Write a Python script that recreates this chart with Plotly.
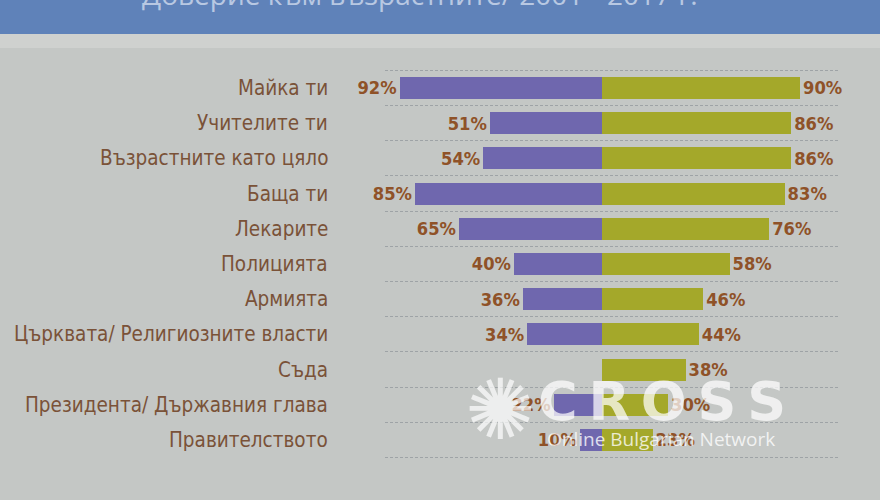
import plotly.graph_objects as go

categories = ["Майка ти", "Учителите ти", "Възрастните като цяло", "Баща ти", "Лекарите",
              "Полицията", "Армията", "Църквата/ Религиозните власти", "Съда",
              "Президента/ Държавния глава", "Правителството"]
values_2001 = [92, 51, 54, 85, 65, 40, 36, 34, None, 22, 10]
values_2017 = [90, 86, 86, 83, 76, 58, 46, 44, 38, 30, 23]
title_text = "Доверие към възрастните/ 2001 - 2017 г."

idx = list(range(len(categories)))
NARROW = "Liberation Sans Narrow, DejaVu Sans Condensed, Arial Narrow, sans-serif"
PURPLE = "#6f67ae"
OLIVE = "#a4a82a"
BROWN = "#8f5228"
CATCOL = "#7a5238"

left_x = [-v if v is not None else None for v in values_2001]
left_t = [f"{v}%" if v is not None else "" for v in values_2001]
right_t = [f"{v}%" for v in values_2017]

fig = go.Figure()
fig.add_trace(go.Bar(y=idx, x=left_x, orientation="h", marker=dict(color=PURPLE, line=dict(width=0)),
                     width=0.62, text=left_t, textposition="outside", cliponaxis=False,
                     textfont=dict(family=NARROW, size=20, color=BROWN, weight="bold"),
                     showlegend=False, hoverinfo="skip"))
fig.add_trace(go.Bar(y=idx, x=values_2017, orientation="h", marker=dict(color=OLIVE, line=dict(width=0)),
                     width=0.62, text=right_t, textposition="outside", cliponaxis=False,
                     textfont=dict(family=NARROW, size=20, color=BROWN, weight="bold"),
                     showlegend=False, hoverinfo="skip"))

for i, c in zip(idx, categories):
    fig.add_annotation(x=330 / 880, xref="paper", y=i, yref="y", text=c, showarrow=False,
                       xanchor="right", yanchor="middle",
                       font=dict(family=NARROW, size=20.5, color=CATCOL))

# top blue band
fig.add_shape(type="rect", xref="paper", yref="paper", x0=0, x1=1, y0=1 - 34 / 500, y1=1,
              fillcolor="#5f82b9", line=dict(width=0), layer="below")
fig.add_shape(type="rect", xref="paper", yref="paper", x0=0, x1=1, y0=1 - 48 / 500, y1=1 - 34 / 500,
              fillcolor="#cfd1cf", line=dict(width=0), layer="below")
fig.add_annotation(x=140 / 880, xref="paper", y=1 + 6 / 500, yref="paper", text=title_text,
                   showarrow=False, xanchor="left", yanchor="middle",
                   font=dict(family="Open Sans, DejaVu Sans, sans-serif", size=28, color="#b8c8e2"))

# watermark
fig.add_annotation(x=662 / 880, xref="paper", y=1 - 401 / 500, yref="paper",
                   text="<b>C\u2009R\u2009O\u2009S\u2009S</b>",
                   showarrow=False, xanchor="center", yanchor="middle",
                   font=dict(family="DejaVu Sans, sans-serif", size=54, color="rgba(255,255,255,0.72)"))
fig.add_annotation(x=545 / 880, xref="paper", y=1 - 439 / 500, yref="paper", text="Online Bulgarian Network",
                   showarrow=False, xanchor="left", yanchor="middle",
                   font=dict(family="Open Sans, DejaVu Sans, sans-serif", size=19, color="rgba(255,255,255,0.78)"))
fig.add_annotation(x=500 / 880, xref="paper", y=1 - 410 / 500, yref="paper", text="✺",
                   showarrow=False, xanchor="center", yanchor="middle",
                   font=dict(family="DejaVu Sans, sans-serif", size=84, color="rgba(255,255,255,0.7)"))

fig.update_layout(
    width=880, height=500, margin=dict(l=0, r=0, t=0, b=0),
    paper_bgcolor="#c4c7c5", plot_bgcolor="rgba(0,0,0,0)",
    barmode="relative", bargap=0,
    xaxis=dict(domain=[385 / 880, 840 / 880], range=[-217 / 2.2, 238 / 2.2], visible=False, fixedrange=True),
    yaxis=dict(range=[11.705, -2.5], tickvals=[i - 0.5 for i in range(12)], showticklabels=False,
               showgrid=True, gridcolor="#9ea3a6", griddash="3px,2px", gridwidth=1, zeroline=False,
               showline=False, ticks="", fixedrange=True),
)

fig.write_html("out.html", config={"displayModeBar": False, "staticPlot": True},
               post_script="document.body.style.margin='0';document.body.style.padding='0';")
